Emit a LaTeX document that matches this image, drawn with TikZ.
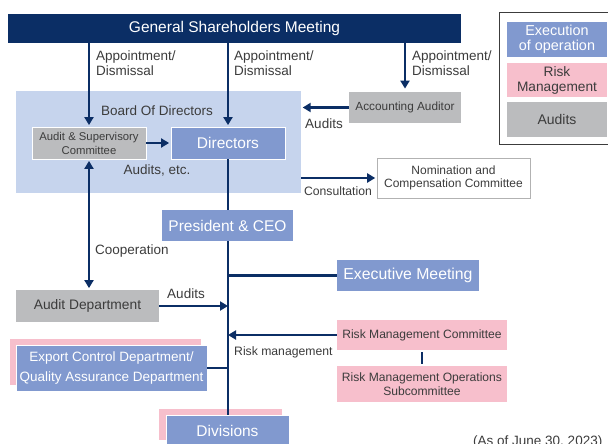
\documentclass[tikz,border=0pt]{standalone}
\usepackage{fontspec}
\setmainfont{Liberation Sans}
\usetikzlibrary{arrows.meta,positioning,calc}
\usepackage{xcolor}
\definecolor{navy}{HTML}{0B2E65}
\definecolor{boardblue}{HTML}{C6D4ED}
\definecolor{execblue}{HTML}{8199CF}
\definecolor{riskpink}{HTML}{F7BFCC}
\definecolor{auditgray}{HTML}{BBBCBE}
\definecolor{textgray}{HTML}{3C3C3C}

\tikzset{
  box/.style={draw=white, line width=0.8pt, inner sep=0pt, align=center},
  execbox/.style={box, fill=execblue, text=white},
  riskbox/.style={box, fill=riskpink, text=textgray},
  auditbox/.style={box, fill=auditgray, text=textgray},
  link/.style={navy, line width=2.3pt},
  arr/.style={link, -{Triangle[length=8pt,width=9pt]}, shorten >=1.5pt},
  lbl/.style={text=textgray, inner sep=0pt, align=left, font=\fontsize{13.5}{15}\selectfont},
}

\begin{document}
\begin{tikzpicture}[x=1pt, y=-1pt]
  \useasboundingbox (0,0) rectangle (608,444);
  \fill[white] (0,0) rectangle (608,444);
  % Board area
  \node[fill=boardblue, inner sep=0pt, minimum width=285pt, minimum height=102pt] (board) at (158.5,142) {};
  \node[lbl] (boardlbl) at (157,111) {Board Of Directors};
  % Top bar
  \node[box, draw=none, fill=navy, text=white, minimum width=453pt, minimum height=29pt,
    font=\fontsize{15.5}{17}\selectfont] (gsm) at (234.5,28.5) {General Shareholders Meeting};
  % Boxes
  \node[auditbox, minimum width=114pt, minimum height=32pt, font=\fontsize{11.3}{14}\selectfont] (asc) at (89,143) {Audit \& Supervisory\\Committee};
  \node[execbox, minimum width=114pt, minimum height=32pt, font=\fontsize{15.5}{17}\selectfont] (dir) at (228,143) {Directors};
  \node[auditbox, draw=none, minimum width=112pt, minimum height=31pt, font=\fontsize{11.8}{13}\selectfont] (aa) at (405,107.5) {Accounting Auditor};
  \node[box, draw=gray!60, line width=0.6pt, text=textgray, minimum width=153pt, minimum height=40pt,
    font=\fontsize{12}{13.5}\selectfont] (nom) at (453.5,178) {Nomination and\\Compensation Committee};
  \node[execbox, draw=none, minimum width=131pt, minimum height=31pt, font=\fontsize{15.5}{17}\selectfont] (pres) at (227.5,225.5) {President \& CEO};
  \node[execbox, draw=none, minimum width=142pt, minimum height=31pt, font=\fontsize{15.8}{17}\selectfont] (exec) at (408,275.5) {Executive Meeting};
  \node[auditbox, draw=none, minimum width=143pt, minimum height=32pt, font=\fontsize{13.8}{15}\selectfont] (auditdept) at (87.5,306) {Audit Department};
  \node[riskbox, draw=none, minimum width=170pt, minimum height=30pt, font=\fontsize{12.1}{13.5}\selectfont] (rmc) at (422,335) {Risk Management Committee};
  \node[riskbox, draw=none, minimum width=170pt, minimum height=36pt, font=\fontsize{12.1}{14}\selectfont] (rmos) at (422,384) {Risk Management Operations\\Subcommittee};
  \node[riskbox, draw=none, minimum width=191pt, minimum height=46pt] (exportshade) at (105.5,362) {};
  \node[execbox, minimum width=191pt, minimum height=46pt, font=\fontsize{13.5}{19.5}\selectfont] (export) at (111.5,368) {Export Control Department/\\Quality Assurance Department};
  \node[riskbox, draw=none, minimum width=123pt, minimum height=31pt] (divshade) at (220.5,424.5) {};
  \node[execbox, minimum width=123pt, minimum height=31pt, font=\fontsize{15.5}{17}\selectfont] (div) at (227.5,430.5) {Divisions};
  % Appointment arrows
  \draw[arr] (gsm.south -| asc.north) -- (asc.north);
  \draw[arr] (gsm.south -| dir.north) -- (dir.north);
  \draw[arr, shorten >=3pt] (gsm.south -| aa.north) -- (aa.north);
  \node[lbl, anchor=north west] (app1) at (96,51) {Appointment/\\Dismissal};
  \node[lbl, anchor=north west] (app2) at (234,51) {Appointment/\\Dismissal};
  \node[lbl, anchor=north west] (app3) at (412,51) {Appointment/\\Dismissal};
  % Board connections
  \draw[arr] (asc.east) -- (dir.west);
  \node[lbl] (auditsetc) at (157,170) {Audits, etc.};
  \draw[arr] (aa.west) -- (aa.west -| board.east);
  \node[lbl] (aalbl) at (324,124) {Audits};
  \draw[arr] (nom.west -| board.east) -- (nom.west);
  \node[lbl, font=\fontsize{12.2}{14}\selectfont] (consult) at (338,191) {Consultation};
  \draw[arr, {Triangle[length=8pt,width=9pt]}-{Triangle[length=8pt,width=9pt]}, shorten <=1.5pt]
    (asc.south) -- (asc.south |- auditdept.north);
  \node[lbl, anchor=west] (coop) at (95,251) {Cooperation};
  % Main line
  \draw[link] (dir.south) -- (dir.south |- pres.north);
  \draw[link] (dir.south |- pres.south) -- (dir.south |- div.north);
  \draw[link] (dir.south |- exec.west) -- (exec.west);
  \draw[arr, shorten >=0pt] (auditdept.east) -- (dir.south |- auditdept.east);
  \node[lbl] (auditslbl) at (186,294) {Audits};
  \draw[arr, shorten >=0pt] (rmc.west) -- (dir.south |- rmc.west);
  \node[lbl, anchor=west, font=\fontsize{12.2}{14}\selectfont] (risklbl) at (234,352) {Risk management};
  \draw[link, line width=2pt, shorten <=2pt, shorten >=2pt] (rmc.south) -- (rmos.north);
  \draw[link] (export.east) -- (dir.south |- export.east);
  % Legend
  \draw[textgray, line width=1pt] (499,13) rectangle (616,144);
  \node[execbox, draw=none, minimum width=100pt, minimum height=35pt, font=\fontsize{14.4}{14.5}\selectfont] (legexec) at (557,39.5) {Execution\\of operation};
  \node[riskbox, draw=none, minimum width=100pt, minimum height=34pt, font=\fontsize{13.7}{15}\selectfont] (legrisk) at (557,80) {Risk\\Management};
  \node[auditbox, draw=none, minimum width=100pt, minimum height=35pt, font=\fontsize{14}{15}\selectfont] (legaudit) at (557,119.5) {Audits};
  % Date
  \node[lbl, anchor=north west] (asof) at (473,436) {(As of June 30, 2023)};
\end{tikzpicture}
\end{document}
